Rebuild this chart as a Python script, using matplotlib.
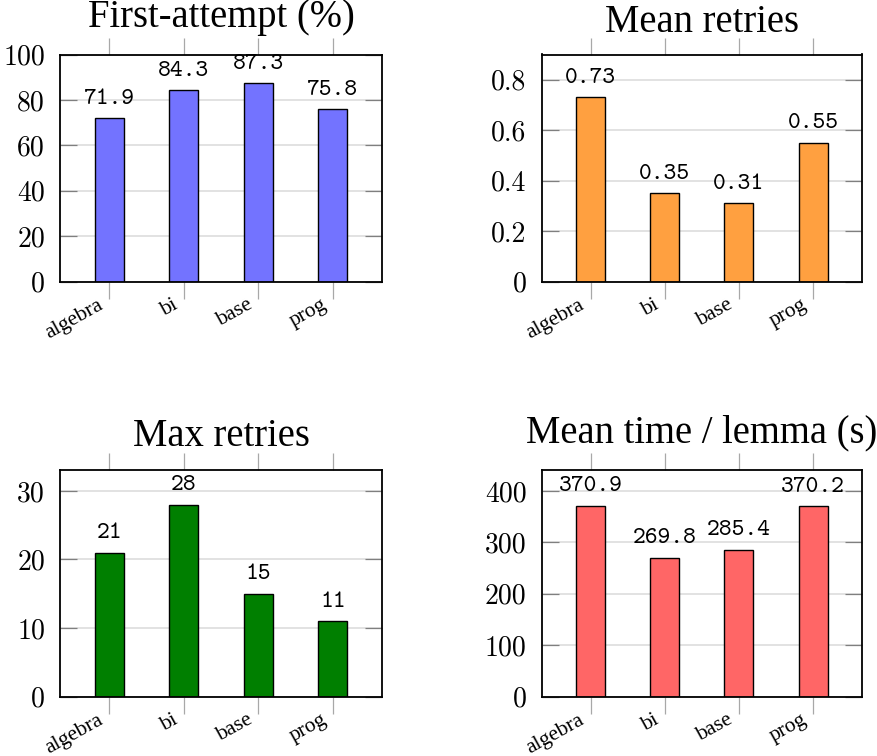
import os
import matplotlib
matplotlib.use("Agg")
import matplotlib.pyplot as plt
from matplotlib.transforms import ScaledTranslation
from matplotlib.font_manager import FontProperties

categories = ["algebra", "bi", "base", "prog"]

first_attempt = [71.9, 84.3, 87.3, 75.8]
mean_retries = [0.73, 0.35, 0.31, 0.55]
max_retries = [21, 28, 15, 11]
mean_time = [370.9, 269.8, 285.4, 370.2]

titles = ["First-attempt (%)", "Mean retries", "Max retries", "Mean time / lemma (s)"]
yticks_list = [[0, 20, 40, 60, 80, 100],
               [0, 0.2, 0.4, 0.6, 0.8],
               [0, 10, 20, 30],
               [0, 100, 200, 300, 400]]
ytick_labels_list = [["0", "20", "40", "60", "80", "100"],
                     ["0", "0.2", "0.4", "0.6", "0.8"],
                     ["0", "10", "20", "30"],
                     ["0", "100", "200", "300", "400"]]
ylims = [100, 0.9, 33, 440]
label_fmts = ["{:.1f}", "{:.2f}", "{:d}", "{:.1f}"]
colors = ["#7373FF", "#FFA040", "#007F00", "#FF6666"]
series = [first_attempt, mean_retries, max_retries, mean_time]

ttf_dir = os.path.join(matplotlib.get_data_path(), "fonts", "ttf")
cmr_path = os.path.join(ttf_dir, "cmr10.ttf")
cmtt_path = os.path.join(ttf_dir, "cmtt10.ttf")
tick_fp = FontProperties(fname=cmr_path, size=20) if os.path.exists(cmr_path) \
    else FontProperties(family="Liberation Serif", size=20)
lab_fp = FontProperties(fname=cmtt_path, size=17.5) if os.path.exists(cmtt_path) \
    else FontProperties(family="Liberation Mono", size=17.5)

W, H = 878, 756
fig = plt.figure(figsize=(W / 100, H / 100), dpi=100)

# axes frames in pixel coordinates (left, top, right, bottom)
frames = [(60, 54.5, 382, 281.7),
          (541.7, 54.5, 862, 281.7),
          (60, 470.3, 382, 696.7),
          (541.7, 470.3, 862, 696.7)]
title_offsets_px = [28, 22, 24, 28]

for i in range(4):
    l, t, r, b = frames[i]
    ax = fig.add_axes([l / W, 1 - b / H, (r - l) / W, (b - t) / H])
    x = list(range(len(categories)))
    vals = series[i]
    ax.bar(x, vals, width=0.39, color=colors[i], edgecolor="black",
           linewidth=1.0, zorder=3)
    ax.set_xlim(-0.66, 3.66)
    ax.set_ylim(0, ylims[i])
    ax.set_yticks(yticks_list[i])
    ax.set_yticklabels(ytick_labels_list[i], fontproperties=tick_fp)
    ax.set_xticks(x)
    ax.set_xticklabels(categories, family="Liberation Serif", fontsize=15.5,
                       rotation=29, ha="right", va="top", rotation_mode="anchor")
    ax.yaxis.grid(True, color="#dadada", linewidth=1.1, zorder=0)
    ax.set_axisbelow(True)
    ax.tick_params(axis="y", direction="in", left=True, right=True,
                   length=12, width=0.9, color="#7f7f7f", pad=10.8)
    ax.tick_params(axis="x", direction="out", top=True, bottom=True,
                   length=12, width=0.9, color="#a8a8a8", pad=0.0)
    for sp in ax.spines.values():
        sp.set_linewidth(1.3)
        sp.set_color("black")
        sp.set_zorder(4)
    for lab in ax.get_xticklabels():
        lab.set_transform(lab.get_transform() +
                          ScaledTranslation(-12 / 100, 3 / 100, fig.dpi_scale_trans))
    for xi, v in zip(x, vals):
        ax.annotate(label_fmts[i].format(v), (xi, v), xytext=(0, 10.4),
                    textcoords="offset points", ha="center", va="baseline",
                    fontproperties=lab_fp, zorder=5)
    fig.text(((l + r) / 2) / W, 1 - (t - title_offsets_px[i]) / H, titles[i],
             ha="center", va="baseline", family="Liberation Serif", fontsize=27.8)

fig.savefig("out.png", dpi=100)
